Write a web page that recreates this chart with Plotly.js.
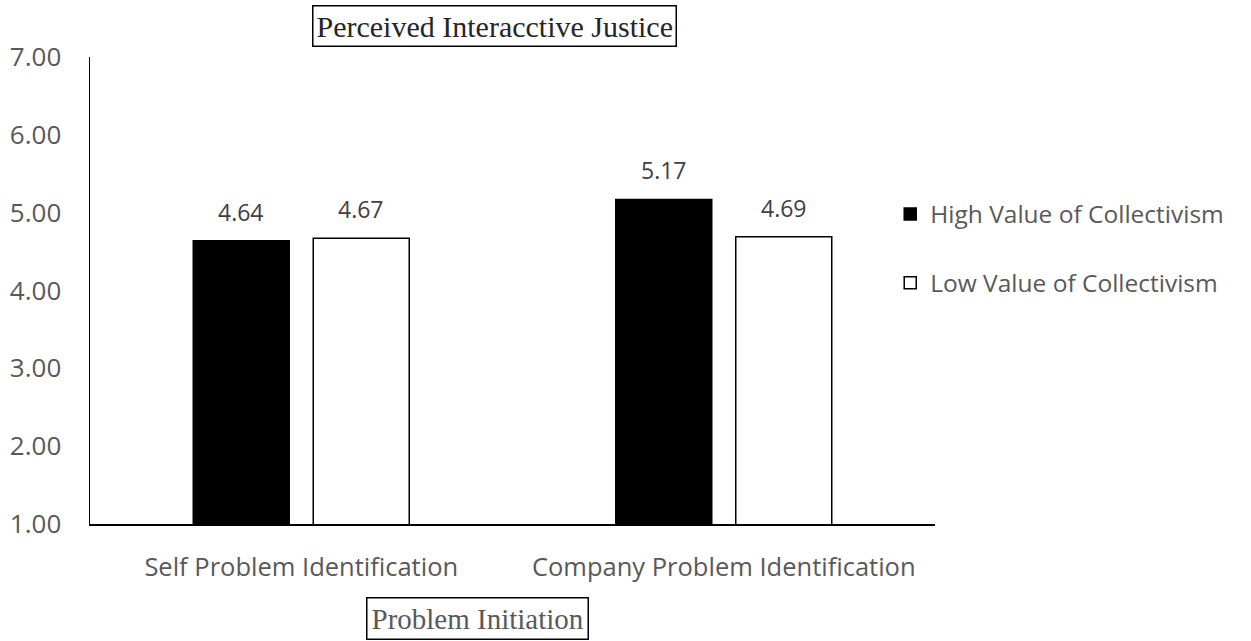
<!DOCTYPE html>
<html>
<head>
<meta charset="utf-8">
<script src="https://cdn.plot.ly/plotly-3.0.1.min.js"></script>
<style>html,body{margin:0;padding:0;background:#fff;}#chart{width:1251px;height:641px;}</style>
</head>
<body>
<div id="chart"></div>
<script>
const categories = ["Self Problem Identification", "Company Problem Identification"];
const seriesNames = ["High Value of Collectivism", "Low Value of Collectivism"];
const highValues = [4.64, 5.17];
const lowValues = [4.67, 4.69];
const yTickVals = [1, 2, 3, 4, 5, 6, 7];
const yTickText = ["1.00", "2.00", "3.00", "4.00", "5.00", "6.00", "7.00"];
const chartTitle = "Perceived Interacctive Justice";
const xTitle = "Problem Initiation";

const FONT = "'Open Sans', sans-serif";
const SERIF = "'Liberation Serif', 'Times New Roman', serif";

const traces = [
  {type: "bar", name: seriesNames[0], x: categories, y: highValues,
   marker: {color: "#000000", line: {color: "#000000", width: 1.5}},
   legendgroup: "a", hoverinfo: "x+y"},
  {type: "bar", name: seriesNames[1], x: categories, y: lowValues,
   marker: {color: "#ffffff", line: {color: "#000000", width: 1.5}},
   legendgroup: "b", hoverinfo: "x+y"}
];

const annotations = [];
[highValues, lowValues].forEach((vals, si) => {
  vals.forEach((v, ci) => {
    annotations.push({
      x: categories[ci], y: v, xref: "x", yref: "y",
      text: v.toFixed(2), showarrow: false,
      xshift: si === 0 ? -60 : 60, yshift: 11, yanchor: "bottom",
      font: {family: FONT, size: 23, color: "#404040"}
    });
  });
});
annotations.push({
  xref: "paper", yref: "paper", x: 0.479, y: 1.066, xanchor: "center", yanchor: "middle",
  text: chartTitle, showarrow: false,
  font: {family: SERIF, size: 30, color: "#262626"},
  bordercolor: "#000000", borderwidth: 1.5, borderpad: 3, bgcolor: "#ffffff"
});
annotations.push({
  xref: "paper", yref: "paper", x: 0.458, y: -0.203, xanchor: "center", yanchor: "middle",
  text: xTitle, showarrow: false,
  font: {family: SERIF, size: 29, color: "#595959"},
  bordercolor: "#000000", borderwidth: 1.5, borderpad: 4, bgcolor: "#ffffff"
});

const layout = {
  width: 1251, height: 641,
  margin: {l: 90, r: 316, t: 57, b: 117},
  paper_bgcolor: "#ffffff", plot_bgcolor: "#ffffff",
  barmode: "group", bargap: 0.432, bargroupgap: 0.2,
  showlegend: true,
  legend: {x: 0.947, xanchor: "left", y: 0.712, yanchor: "top",
           font: {family: FONT, size: 24.5, color: "#595959"},
           itemwidth: 30, tracegroupgap: 34, traceorder: "grouped"},
  xaxis: {showline: true, linecolor: "#000000", linewidth: 1.5, showgrid: false,
          zeroline: false, ticks: "", ticklabelstandoff: 20,
          tickfont: {family: FONT, size: 25.5, color: "#595959"}},
  yaxis: {range: [1, 7], tickvals: yTickVals, ticktext: yTickText,
          showline: true, linecolor: "#000000", linewidth: 1.5, showgrid: false,
          zeroline: false, ticks: "", ticklabelstandoff: 22,
          tickfont: {family: FONT, size: 26, color: "#595959"}},
  annotations: annotations
};

Plotly.newPlot("chart", traces, layout, {displayModeBar: false, staticPlot: true});
</script>
</body>
</html>
